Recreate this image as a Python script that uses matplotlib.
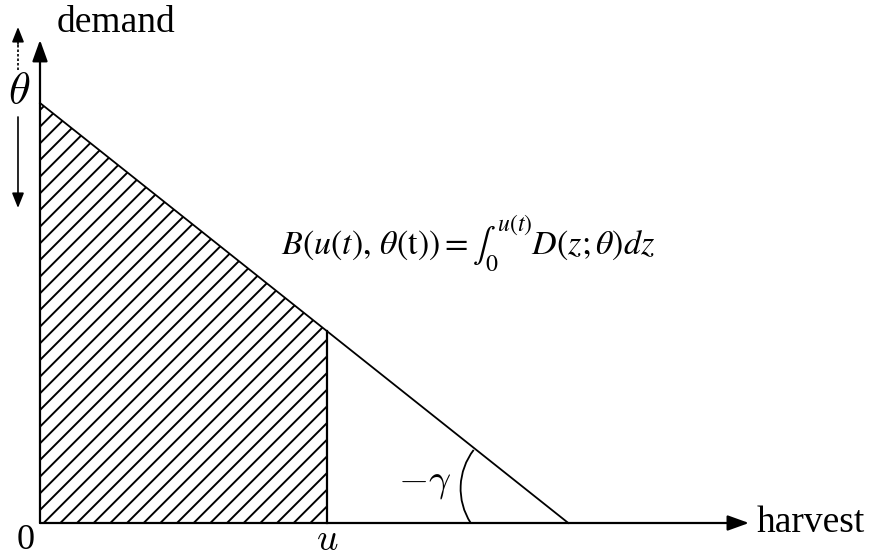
import numpy as np
import matplotlib.pyplot as plt
from matplotlib.patches import Arc

# linear inverse demand D(z; theta) = theta - gamma * z
theta = 1.0          # intercept (choke price)
gamma = 0.795        # slope magnitude
u = 0.683            # harvest level
x_axis_end = 1.688
y_axis_end = 1.15

q_max = theta / gamma
z = np.array([0.0, q_max])
demand = theta - gamma * z

z_u = np.array([0.0, u])
demand_u = theta - gamma * z_u

plt.rcParams['font.family'] = ['Liberation Serif', 'DejaVu Serif']
plt.rcParams['mathtext.fontset'] = 'stix'
plt.rcParams['hatch.linewidth'] = 1.4

fig = plt.figure(figsize=(8.75, 5.59), dpi=100)
ax = fig.add_axes([0, 0, 1, 1])
ax.set_xlim(-40 / 420, 835 / 420)
ax.set_ylim(-36 / 420, 523 / 420)
ax.axis('off')

# shaded benefit area under the demand curve up to u
ax.fill_between(z_u, 0, demand_u, facecolor='none', edgecolor='black',
                hatch='//', linewidth=0)
ax.plot(z, demand, color='black', lw=1.3)
ax.plot([u, u], [0, theta - gamma * u], color='black', lw=1.6)

# axes with arrow heads
arrow = dict(arrowstyle='-|>,head_length=0.5,head_width=0.18', color='black',
             lw=1.6, mutation_scale=26, shrinkA=0, shrinkB=0)
ax.annotate('', xy=(x_axis_end, 0), xytext=(0, 0), arrowprops=arrow)
ax.annotate('', xy=(0, y_axis_end), xytext=(0, 0), arrowprops=arrow)

# theta shift indicator (up dotted, down solid)
small = dict(arrowstyle='-|>,head_length=0.5,head_width=0.2', color='black',
             lw=1.2, mutation_scale=18, shrinkA=0, shrinkB=0)
xs = -0.0524
ax.plot([xs, xs], [1.0786, 1.14], color='black', lw=1.2, ls=(0, (1.5, 1.2)))
ax.annotate('', xy=(xs, 1.181), xytext=(xs, 1.14), arrowprops=small)
ax.annotate('', xy=(xs, 0.75), xytext=(xs, 0.9667), arrowprops=small)

# angle marker at the choke point
ax.add_patch(Arc((q_max - 0.105, 0.082), 2 * 0.1514, 2 * 0.1514,
                 theta1=142.6, theta2=212.7, color='black', lw=1.3))

ax.text(0.0405, 1.169, 'demand', fontsize=27, ha='left', va='baseline')
ax.text(1.707, -0.0214, 'harvest', fontsize=27, ha='left', va='baseline')
ax.text(-0.0333, -0.0619, '0', fontsize=26, ha='center', va='baseline')
ax.text(u, -0.0643, '$u$', fontsize=27, ha='center', va='baseline',
        math_fontfamily='cm')
ax.text(-0.05, 1.026, r'$\theta$', fontsize=32, ha='center', va='center',
        math_fontfamily='cm')
ax.text(0.9155, 0.0976, r'$-\gamma$', fontsize=28, ha='center', va='center',
        math_fontfamily='cm')
ax.text(0.574, 0.638,
        r'$B(u(t),\,\theta(\mathrm{t})) = \int_0^{u(t)} D(z;\theta)dz$',
        fontsize=24.5, ha='left', va='baseline')

fig.savefig('out.png', dpi=100)
